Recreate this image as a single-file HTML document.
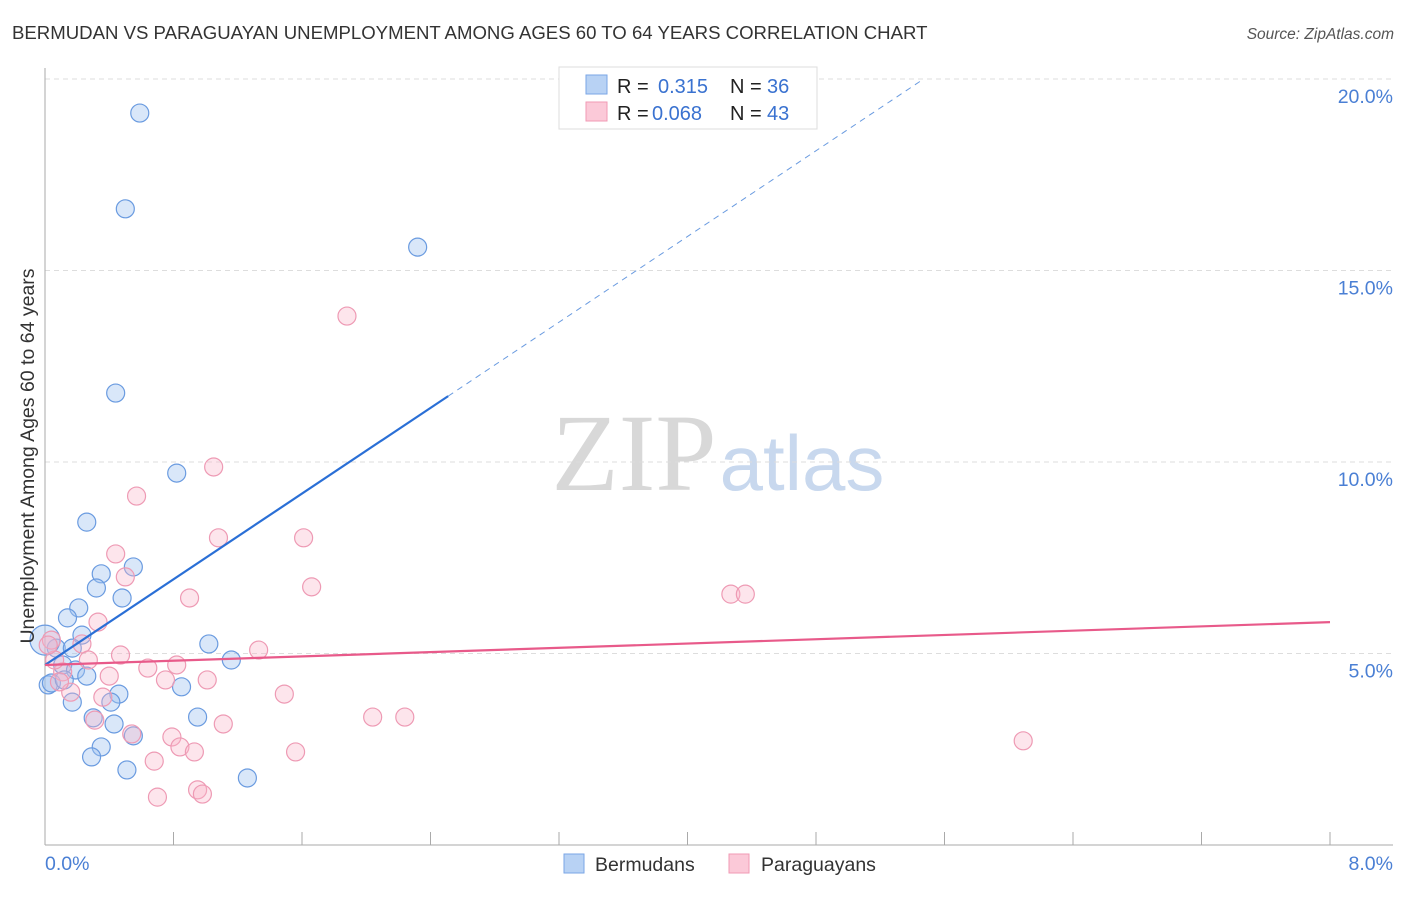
<!DOCTYPE html>
<html><head><meta charset="utf-8"><style>
body{margin:0;background:#fff;font-family:"Liberation Sans",sans-serif;}
svg text{font-family:"Liberation Sans",sans-serif;}
</style></head><body>
<svg id="chart" width="1406" height="892" xmlns="http://www.w3.org/2000/svg">
<text x="12" y="39" font-size="18.6" fill="#333">BERMUDAN VS PARAGUAYAN UNEMPLOYMENT AMONG AGES 60 TO 64 YEARS CORRELATION CHART</text>
<text x="1394" y="39" font-size="15.5" fill="#555" text-anchor="end" font-style="italic">Source: ZipAtlas.com</text>
<g>
<text x="634" y="490" font-size="110" fill="#d8d8d8" text-anchor="middle" style="font-family:'Liberation Serif',serif">ZIP</text>
<text x="802" y="490" font-size="78" fill="#c8d8ee" text-anchor="middle">atlas</text>
</g>
<g id="grid"></g>
<g id="axes"></g>
<g id="marks"></g>
<text transform="translate(34,456) rotate(-90)" font-size="19.5" fill="#333" text-anchor="middle">Unemployment Among Ages 60 to 64 years</text>
<g>
<rect x="559" y="67" width="258" height="62" fill="#fff" stroke="#ddd"/>
<rect x="586" y="75" width="21" height="19" fill="#b8d2f4" stroke="#7aa6e6"/>
<rect x="586" y="102" width="21" height="19" fill="#fbc9d8" stroke="#f09ab4"/>
<text x="617" y="93" font-size="20" fill="#222">R = </text><text x="658" y="93" font-size="20" fill="#3a72d0">0.315</text>
<text x="730" y="93" font-size="20" fill="#222">N = </text><text x="767" y="93" font-size="20" fill="#3a72d0">36</text>
<text x="617" y="120" font-size="20" fill="#222">R = </text><text x="652" y="120" font-size="20" fill="#3a72d0">0.068</text>
<text x="730" y="120" font-size="20" fill="#222">N = </text><text x="767" y="120" font-size="20" fill="#3a72d0">43</text>
</g>
<g>
<rect x="564" y="854" width="20" height="19" fill="#b8d2f4" stroke="#7aa6e6"/>
<text x="595" y="871" font-size="19.5" fill="#333">Bermudans</text>
<rect x="729" y="854" width="20" height="19" fill="#fbc9d8" stroke="#f09ab4"/>
<text x="761" y="871" font-size="19.5" fill="#333">Paraguayans</text>
</g>
</svg>
<script>
const blueX=[0.59,0.50,2.32,0.44,0.82,0.26,0.55,0.35,0.32,0.48,0.21,0.14,0.23,0.07,0.17,1.02,1.16,0.11,0.19,0.26,0.02,0.04,0.85,0.46,0.41,0.17,0.30,0.95,0.43,0.55,0.35,0.29,0.51,1.26,0.00,0.12];
const blueY=[19.11,16.61,15.61,11.80,9.71,8.43,7.26,7.08,6.71,6.45,6.19,5.93,5.48,5.14,5.14,5.25,4.83,4.70,4.57,4.41,4.18,4.23,4.13,3.94,3.73,3.73,3.32,3.34,3.16,2.85,2.56,2.30,1.96,1.75,5.35,4.31];
const pinkX=[1.88,1.05,0.57,1.08,1.61,0.44,0.50,1.66,0.90,0.33,0.23,0.04,0.47,0.27,1.33,0.82,0.64,0.40,0.75,1.01,0.11,0.06,0.16,0.36,1.49,2.04,2.24,0.31,1.11,0.54,0.79,0.84,0.93,1.56,0.68,0.70,0.95,0.98,4.27,4.36,6.09,0.02,0.09];
const pinkY=[13.81,9.87,9.11,8.02,8.02,7.60,7.00,6.74,6.45,5.82,5.25,5.35,4.96,4.83,5.09,4.70,4.62,4.41,4.31,4.31,4.52,4.83,3.99,3.86,3.94,3.34,3.34,3.26,3.16,2.90,2.82,2.56,2.43,2.43,2.19,1.25,1.44,1.33,6.55,6.55,2.72,5.22,4.26];
const yTicks=[5,10,15,20];
const yTickLabels=["5.0%","10.0%","15.0%","20.0%"];
const xTickLabels=["0.0%","8.0%"];
const blueTrend=[4.70,2.797]; // intercept, slope
const pinkTrend=[4.70,0.14];
const blueSolidEnd=2.51, blueDashEnd=5.45, xMax=8;

const NS="http://www.w3.org/2000/svg";
const X=v=>45+v/8*1285;
const Y=v=>845-v/5*191.5;
function mk(tag,attrs,parent){const e=document.createElementNS(NS,tag);for(const k in attrs)e.setAttribute(k,attrs[k]);parent.appendChild(e);return e;}
const grid=document.getElementById('grid'),axes=document.getElementById('axes'),marks=document.getElementById('marks');
yTicks.forEach((t,i)=>{
 const l=mk('line',{x1:45,x2:1393,y1:Y(t),y2:Y(t),stroke:'#ddd','stroke-dasharray':'5,4'},grid);
 
 
 const tx=mk('text',{x:1393,y:Y(t)+24,'font-size':19.5,fill:'#4a7fd4','text-anchor':'end'},axes);
 tx.textContent=yTickLabels[i];
 
 
});
let a=mk('line',{x1:45,x2:45,y1:68,y2:845,stroke:'#aaa'},axes);


a=mk('line',{x1:45,x2:1393,y1:845,y2:845,stroke:'#aaa'},axes);


for(let k=1;k<=10;k++){
 const t=mk('line',{x1:45+128.5*k,x2:45+128.5*k,y1:832,y2:845,stroke:'#aaa'},axes);
 
 
}
let xl=mk('text',{x:45,y:870,'font-size':19.5,fill:'#4a7fd4'},axes);xl.textContent=xTickLabels[0];


xl=mk('text',{x:1393,y:870,'font-size':19.5,fill:'#4a7fd4','text-anchor':'end'},axes);xl.textContent=xTickLabels[1];



blueX.forEach((x,i)=>{
 const c=mk('circle',{cx:X(x),cy:Y(blueY[i]),r:(x===0?15:9),fill:'rgba(160,196,240,0.4)',stroke:'#6a9be0','stroke-width':1.2},marks);
 
 
});
pinkX.forEach((x,i)=>{
 const c=mk('circle',{cx:X(x),cy:Y(pinkY[i]),r:9,fill:'rgba(248,180,200,0.35)',stroke:'#ee9ab4','stroke-width':1.2},marks);
 
 
});
const bt=x=>blueTrend[0]+blueTrend[1]*x, pt=x=>pinkTrend[0]+pinkTrend[1]*x;
let L=mk('line',{x1:X(blueSolidEnd),y1:Y(bt(blueSolidEnd)),x2:X(blueDashEnd),y2:Y(bt(blueDashEnd)),stroke:'#6a9be0','stroke-width':1,'stroke-dasharray':'6,5'},marks);


L=mk('line',{x1:X(0),y1:Y(bt(0)),x2:X(blueSolidEnd),y2:Y(bt(blueSolidEnd)),stroke:'#2a6fd6','stroke-width':2.2},marks);


L=mk('line',{x1:X(0),y1:Y(pt(0)),x2:X(xMax),y2:Y(pt(xMax)),stroke:'#e85a8a','stroke-width':2.2},marks);


</script>
</body></html>
